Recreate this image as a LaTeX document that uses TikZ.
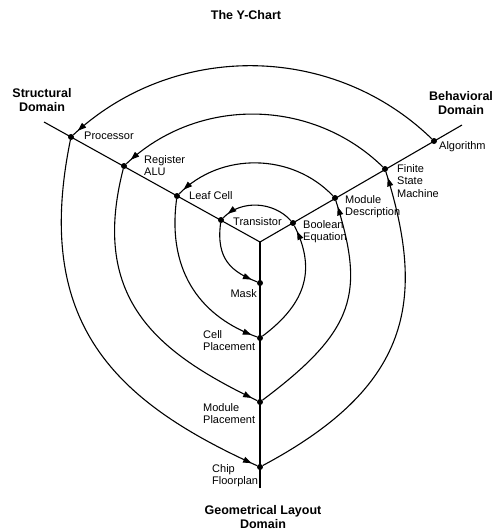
\documentclass[tikz,border=0pt]{standalone}
\usepackage{fontspec}
\setmainfont{Liberation Sans}
\usetikzlibrary{arrows.meta,decorations.markings}
\begin{document}
\begin{tikzpicture}[x=1pt,y=-1pt,
  ydot/.style={circle,fill=black,inner sep=0pt,minimum size=6pt},
  ylab/.style={inner sep=0pt,font=\fontsize{11}{12.5}\selectfont,align=left},
  ydom/.style={inner sep=0pt,font=\fontsize{12.5}{14}\selectfont\bfseries,align=center},
  yline/.style={line width=1.1pt},
  yarr/.style={postaction={decorate},decoration={markings,mark=at position -6pt with {\arrow{Triangle[length=8.5pt,width=6pt]}}}}
]
\useasboundingbox[fill=white] (0,0) rectangle (493,531);

% axes
\coordinate (o) at (260,242);
\coordinate (send) at (44,122);
\coordinate (bend) at (462,125);
\coordinate (gend) at (260,488);
\draw[yline] (o) -- (send);
\draw[yline] (o) -- (bend);
\draw[yline] (o) -- (gend);

% dots
\node[ydot] (proc) at (71,137) {};
\node[ydot] (reg)  at (124,166) {};
\node[ydot] (leaf) at (177,196) {};
\node[ydot] (tr)   at (221,220) {};
\node[ydot] (alg)  at (434,141) {};
\node[ydot] (fsm)  at (385,169) {};
\node[ydot] (md)   at (335,198) {};
\node[ydot] (be)   at (293,223) {};
\node[ydot] (mask) at (260,283) {};
\node[ydot] (cp)   at (260,338) {};
\node[ydot] (mp)   at (260,402) {};
\node[ydot] (chip) at (260,467) {};

% spiral
\draw[yline,yarr] (alg) .. controls (333,43) and (174,41) .. (proc);
\draw[yline,yarr] (proc) .. controls (33,323) and (114,401) .. (chip);
\draw[yline,yarr] (chip) .. controls (410,387) and (427,302) .. (fsm);
\draw[yline,yarr] (fsm) .. controls (312,98) and (198,96) .. (reg);
\draw[yline,yarr] (reg) .. controls (89,302) and (161,354) .. (mp);
\draw[yline,yarr] (mp) .. controls (356,330) and (365,293) .. (md);
\draw[yline,yarr] (md) .. controls (292,153) and (221,151.5) .. (leaf);
\draw[yline,yarr] (leaf) .. controls (166.6,275) and (204,318) .. (cp);
\draw[yline,yarr] (cp) .. controls (308,302) and (315.4,267.7) .. (be);
\draw[yline,yarr] (be) .. controls (273.5,201.5) and (241.4,199.4) .. (tr);
\draw[yline,yarr] (tr) .. controls (215.8,259.6) and (232,272) .. (mask);

% labels
\node[ylab,anchor=base west] (lproc) at (84,139) {Processor};
\node[ylab,anchor=north west] (lreg) at (144,155) {Register\\ALU};
\node[ylab,anchor=base west] (lleaf) at (189,199) {Leaf Cell};
\node[ylab,anchor=base west] (ltr) at (233,225) {Transistor};
\node[ylab,anchor=base east] (lmask) at (257,297) {Mask};
\node[ylab,anchor=north west] (lcp) at (203,330) {Cell\\Placement};
\node[ylab,anchor=north west] (lmp) at (203,403) {Module\\Placement};
\node[ylab,anchor=north west] (lchip) at (212,464) {Chip\\Floorplan};
\node[ylab,anchor=north west] (lbe) at (303,220) {Boolean\\Equation};
\node[ylab,anchor=north west] (lmd) at (345,195) {Module\\Description};
\node[ylab,anchor=north west] (lfsm) at (397,164) {Finite\\State\\Machine};
\node[ylab,anchor=base west] (lalg) at (439,149) {Algorithm};

% domain labels and title
\node[ydom,anchor=base] (title) at (246,19) {The Y-Chart};
\node[ydom,anchor=north] (dstruct) at (42,88) {Structural\\Domain};
\node[ydom,anchor=north] (dbeh) at (461,91) {Behavioral\\Domain};
\node[ydom,anchor=north] (dgeo) at (263,505) {Geometrical Layout\\Domain};
\end{tikzpicture}
\end{document}
